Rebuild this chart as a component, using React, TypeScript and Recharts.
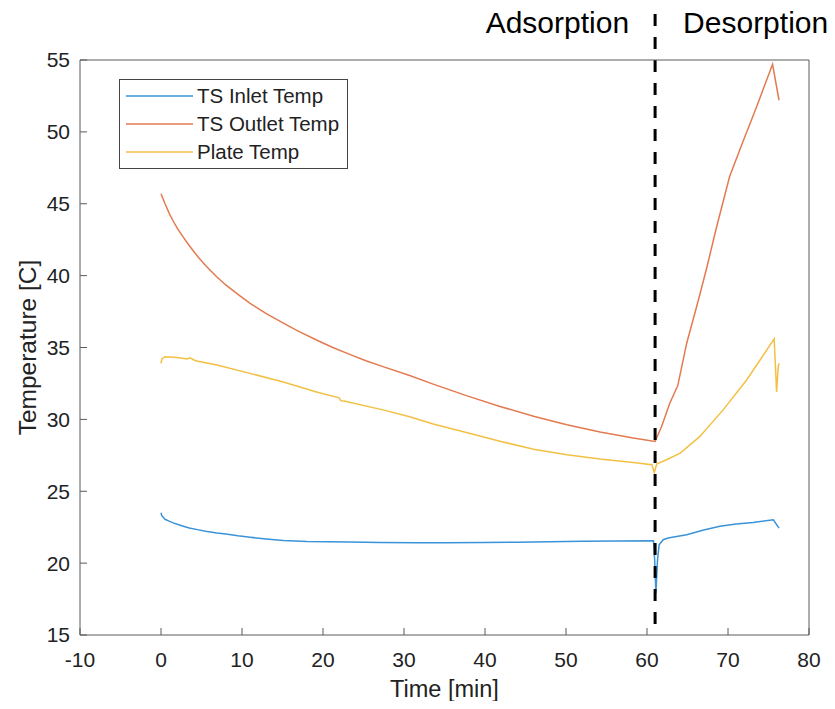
import React from 'react';
import { LineChart, Line, XAxis, YAxis, ReferenceLine, ReferenceDot, Legend } from 'recharts';

const FONT = '"Liberation Sans", Arial, Helvetica, sans-serif';

const xTicks = [-10, 0, 10, 20, 30, 40, 50, 60, 70, 80];
const yTicks = [15, 20, 25, 30, 35, 40, 45, 50, 55];

const seriesNames = ['TS Inlet Temp', 'TS Outlet Temp', 'Plate Temp'];

const switchTime = 61;
const phaseLabelTemp = 57.64;
const dashTop = 58.2;
const dashBottom = 15.5;

const inletTime = [0, 0.1, 0.5, 1.0, 1.5, 2.0, 2.75, 3.5, 4.5, 5.5, 6.9, 8, 9.5, 11, 13, 15.1, 18, 23.3, 27, 31.6, 35, 39.8, 44, 48, 52, 56.3, 60.8, 60.95, 61.1, 61.3, 61.5, 62.0, 62.6, 64.9, 67, 69, 71, 73.1, 75.6, 76.3];
const inletTemp = [23.5, 23.3, 23.05, 22.92, 22.8, 22.7, 22.57, 22.45, 22.33, 22.22, 22.1, 22.02, 21.9, 21.8, 21.68, 21.58, 21.51, 21.47, 21.44, 21.41, 21.42, 21.44, 21.46, 21.49, 21.52, 21.54, 21.56, 20.2, 17.9, 20.24, 21.28, 21.63, 21.75, 21.98, 22.3, 22.56, 22.72, 22.83, 23.02, 22.44];

const outletTime = [0, 0.25, 0.5, 1, 1.5, 2, 2.75, 3.5, 4.5, 5.5, 6.9, 8, 9.5, 11, 13, 15.1, 17, 19.2, 21.2, 23.3, 25.3, 27.4, 30.7, 33.6, 37.7, 41.85, 46, 50.1, 54.2, 58.3, 61.0, 61.8, 62.8, 63.8, 64.9, 66.3, 67.4, 68.6, 70.2, 71.9, 73.5, 75.5, 76.3];
const outletTemp = [45.7, 45.35, 45.0, 44.35, 43.8, 43.3, 42.68, 42.08, 41.35, 40.7, 39.9, 39.35, 38.7, 38.07, 37.35, 36.7, 36.12, 35.52, 35.0, 34.52, 34.08, 33.67, 33.05, 32.45, 31.65, 30.9, 30.22, 29.62, 29.12, 28.7, 28.46, 29.5, 31.1, 32.35, 35.3, 38.2, 40.6, 43.4, 46.9, 49.4, 51.7, 54.7, 52.2];

const plateTime = [0, 0.1, 0.5, 2, 3.2, 3.6, 4.0, 4.4, 6.9, 11, 15.1, 19.2, 22.0, 22.2, 22.6, 27.4, 30.7, 33.6, 37.7, 41.85, 46, 50.1, 54.2, 58.3, 60.6, 60.9, 61.2, 62.4, 64.1, 66.5, 69.4, 72.3, 75.7, 76.0, 76.2, 76.3];
const plateTemp = [33.9, 34.2, 34.36, 34.3, 34.2, 34.28, 34.15, 34.06, 33.78, 33.2, 32.6, 31.9, 31.5, 31.3, 31.28, 30.66, 30.18, 29.68, 29.08, 28.48, 27.92, 27.54, 27.24, 27.0, 26.84, 26.3, 26.9, 27.19, 27.65, 28.8, 30.66, 32.74, 35.6, 31.9, 33.67, 33.9];

const toPoints = (ts: number[], vs: number[]) => ts.map((t, i) => ({ t, v: vs[i] }));

const inletData = toPoints(inletTime, inletTemp);
const outletData = toPoints(outletTime, outletTemp);
const plateData = toPoints(plateTime, plateTemp);

const BLUE = '#3a93d8';
const ORANGE = '#e47a50';
const YELLOW = '#f2c043';
const AXIS = '#5a5a5a';
const TEXT = '#222222';

const renderLegend = (props: any) => {
  const raw = (props.payload || []) as any[];
  const items = seriesNames
    .map((n) => raw.find((p) => p.value === n))
    .filter(Boolean) as any[];
  return (
    <div
      style={{
        border: '1px solid #444',
        background: '#fff',
        width: 227,
        height: 86,
        paddingTop: 2,
        boxSizing: 'content-box',
        fontFamily: FONT,
        fontSize: 20.5,
        color: TEXT,
      }}
    >
      {items.map((it) => (
        <div key={it.value} style={{ display: 'flex', alignItems: 'center', height: 28 }}>
          <svg width={67} height={4} style={{ marginLeft: 6, display: 'block' }}>
            <line x1={0} y1={2} x2={67} y2={2} stroke={it.color} strokeWidth={1.5} />
          </svg>
          <span style={{ marginLeft: 4, lineHeight: '28px', whiteSpace: 'nowrap' }}>{it.value}</span>
        </div>
      ))}
    </div>
  );
};

const YLabel = (props: any) => {
  const vb = props.viewBox || { x: 0, y: 0, width: 0, height: 0 };
  const cx = vb.x + 27;
  const cy = vb.y + vb.height / 2;
  return (
    <text
      x={cx}
      y={cy}
      transform={`rotate(-90 ${cx} ${cy})`}
      textAnchor="middle"
      dominantBaseline="central"
      fontFamily={FONT}
      fontSize={24.5}
      fill={TEXT}
    >
      Temperature [C]
    </text>
  );
};

export default function App() {
  return (
    <div style={{ margin: -8, width: 835, height: 709, background: '#fff' }}>
      <LineChart width={835} height={709} margin={{ top: 59, right: 25, bottom: 9, left: 0 }}>
        <XAxis
          dataKey="t"
          type="number"
          domain={[-10, 80]}
          ticks={xTicks}
          allowDataOverflow
          height={65}
          tickSize={-7}
          tickMargin={24}
          stroke={AXIS}
          tick={{ fontSize: 21, fill: TEXT, fontFamily: FONT }}
          label={{ value: 'Time [min]', position: 'insideBottom', offset: 3, fontSize: 23.5, fill: TEXT, fontFamily: FONT }}
        />
        <XAxis
          xAxisId="top"
          orientation="top"
          type="number"
          domain={[-10, 80]}
          ticks={xTicks}
          height={1}
          tickSize={-7}
          tick={false}
          stroke={AXIS}
        />
        <YAxis
          type="number"
          domain={[15, 55]}
          ticks={yTicks}
          allowDataOverflow
          width={80}
          tickSize={-7}
          tickMargin={17}
          stroke={AXIS}
          tick={{ fontSize: 21, fill: TEXT, fontFamily: FONT }}
          label={<YLabel />}
        />
        <YAxis
          yAxisId="right"
          orientation="right"
          type="number"
          domain={[15, 55]}
          ticks={yTicks}
          width={1}
          tickSize={-7}
          tick={false}
          stroke={AXIS}
        />
        <Legend
          content={renderLegend}
          layout="horizontal"
          verticalAlign="middle"
          align="center"
          wrapperStyle={{ left: 119, top: 79, width: 'auto', height: 'auto' }}
        />
        <Line data={inletData} dataKey="v" name="TS Inlet Temp" type="linear" stroke={BLUE} strokeWidth={1.5} dot={false} isAnimationActive={false} />
        <Line data={outletData} dataKey="v" name="TS Outlet Temp" type="linear" stroke={ORANGE} strokeWidth={1.5} dot={false} isAnimationActive={false} />
        <Line data={plateData} dataKey="v" name="Plate Temp" type="linear" stroke={YELLOW} strokeWidth={1.5} dot={false} isAnimationActive={false} />
        <ReferenceLine
          segment={[{ x: switchTime, y: dashTop }, { x: switchTime, y: dashBottom }]}
          ifOverflow="visible"
          stroke="#000"
          strokeWidth={3}
          strokeDasharray="12 11"
        />
        <ReferenceDot
          x={switchTime}
          y={phaseLabelTemp}
          r={0}
          fill="none"
          stroke="none"
          ifOverflow="visible"
          label={{ value: 'Adsorption', position: 'left', offset: 26, fontSize: 30, fill: '#000', fontFamily: FONT }}
        />
        <ReferenceDot
          x={switchTime}
          y={phaseLabelTemp}
          r={0}
          fill="none"
          stroke="none"
          ifOverflow="visible"
          label={{ value: 'Desorption', position: 'right', offset: 28, fontSize: 30, fill: '#000', fontFamily: FONT }}
        />
      </LineChart>
    </div>
  );
}
